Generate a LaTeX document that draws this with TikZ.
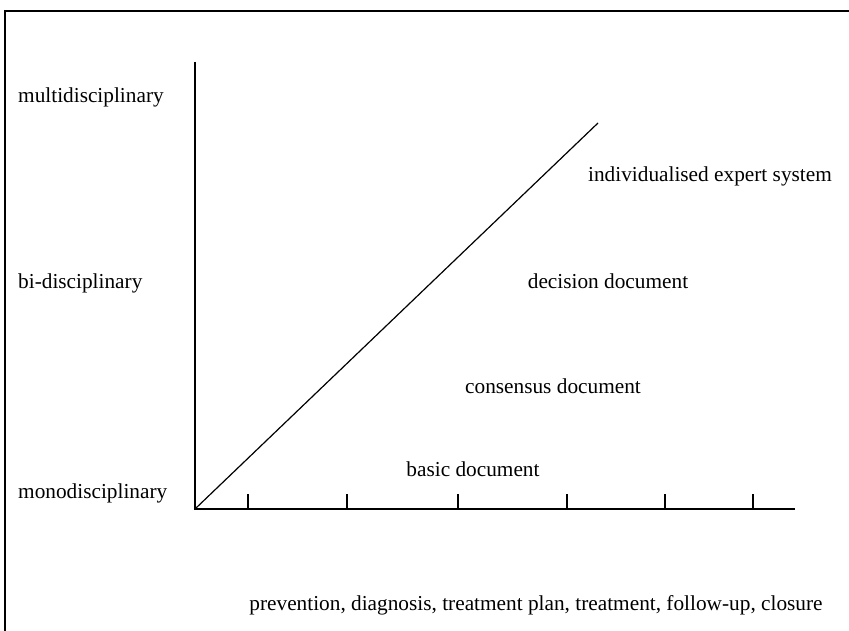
\documentclass[tikz,border=0pt]{standalone}
\usepackage{fontspec}
\setmainfont{Liberation Serif}
\begin{document}
\begin{tikzpicture}[x=1pt,y=-1pt,
  lbl/.style={inner sep=0pt, font=\fontsize{21.3}{24}\selectfont},
  axisline/.style={line width=1.5pt},
  tickline/.style={line width=1.5pt}]
\useasboundingbox (0,0) rectangle (849,631);
% frame
\draw[line width=1.5pt] (5,640) -- (5,11) -- (860,11);
% axes
\coordinate (O) at (195,509);
\coordinate (ytop) at (195,62);
\coordinate (xend) at (795,509);
\coordinate (dend) at (598,123);
\draw[axisline] (ytop) -- (O) -- (xend);
\draw[line width=1.2pt] (O) -- (dend);
\foreach \x/\n in {248/t1,347/t2,458/t3,567/t4,665/t5,753/t6}{
  \coordinate (\n) at (\x,509);
  \draw[tickline] (\n) -- ++(0,-15);
}
% left labels
\node[lbl,anchor=west] (multi) at (18,97) {multidisciplinary};
\node[lbl,anchor=west] (bi) at (18,283) {bi-disciplinary};
\node[lbl,anchor=west] (mono) at (18,493) {monodisciplinary};
% region labels
\node[lbl] (ies) at (710,176) {individualised expert system};
\node[lbl] (dec) at (608,281) {decision document};
\node[lbl] (cons) at (553,386) {consensus document};
\node[lbl] (basic) at (473,469) {basic document};
% x axis label
\node[lbl] (phases) at (536,605) {prevention, diagnosis, treatment plan, treatment, follow-up, closure};
\end{tikzpicture}
\end{document}
